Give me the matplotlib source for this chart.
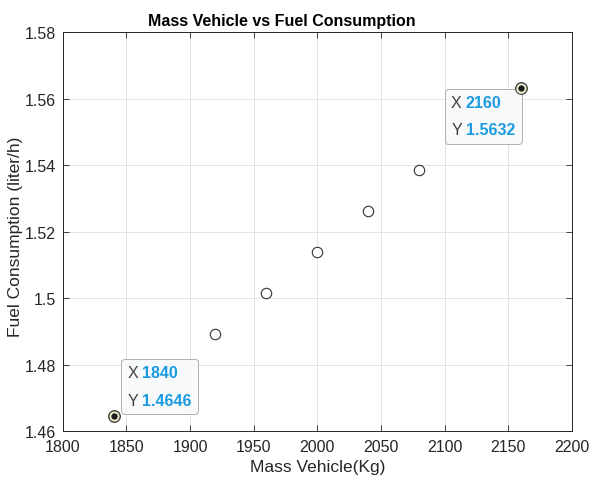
import matplotlib
matplotlib.use('Agg')
import matplotlib.pyplot as plt
from matplotlib.offsetbox import TextArea, HPacker, VPacker, AnnotationBbox

plt.rcParams['font.family'] = ['Liberation Sans', 'DejaVu Sans']

# data
mass = [1840, 1920, 1960, 2000, 2040, 2080, 2160]
fuel = [1.4646, 1.4893, 1.5016, 1.5139, 1.5262, 1.5386, 1.5632]
tip_idx = [0, 6]
x_ticks = [1800, 1850, 1900, 1950, 2000, 2050, 2100, 2150, 2200]
y_ticks = [1.46, 1.48, 1.5, 1.52, 1.54, 1.56, 1.58]
y_tick_labels = ['1.46', '1.48', '1.5', '1.52', '1.54', '1.56', '1.58']

fig = plt.figure(figsize=(5.92, 4.85), dpi=100)
ax = fig.add_axes([0.106, 0.109, 0.860, 0.823])

ax.plot(mass, fuel, linestyle='none', marker='o', markersize=7.5,
        markerfacecolor='white', markeredgecolor='#333333', markeredgewidth=0.8, zorder=3)

for i in tip_idx:
    ax.plot(mass[i], fuel[i], marker='o', markersize=6, markerfacecolor='#1a1a1a',
            markeredgecolor='#e8e4c8', markeredgewidth=1.5, zorder=6)
    ax.plot(mass[i], fuel[i], marker='o', markersize=8.5, markerfacecolor='none',
            markeredgecolor='#333333', markeredgewidth=0.7, zorder=6)

ax.set_xlim(1800, 2200)
ax.set_ylim(1.46, 1.58)
ax.set_xticks(x_ticks)
ax.set_yticks(y_ticks)
ax.set_yticklabels(y_tick_labels)
ax.tick_params(direction='in', length=4, width=0.6, colors='#262626', labelsize=11.5,
               top=True, right=True, labeltop=False, labelright=False)
ax.tick_params(axis='x', pad=6)
ax.tick_params(axis='y', pad=5)
ax.grid(True, color='#e3e3e3', linewidth=0.7)
ax.set_axisbelow(True)
for s in ax.spines.values():
    s.set_color('#262626')
    s.set_linewidth(0.7)

ax.set_title('Mass Vehicle vs Fuel Consumption', fontsize=11.5, fontweight='bold',
             color='black', pad=5, x=0.43)
ax.set_xlabel('Mass Vehicle(Kg)', fontsize=12.5, color='#262626', labelpad=3)
ax.set_ylabel('Fuel Consumption (liter/h)', fontsize=12.5, color='#262626')
ax.yaxis.set_label_coords(-0.078, 0.49)


def datatip(i, offset, align):
    rows = []
    for name, val in (('X', '%g' % mass[i]), ('Y', '%.4f' % fuel[i])):
        rows.append(HPacker(children=[
            TextArea(name, textprops=dict(color='#404040', fontsize=11.5)),
            TextArea(val, textprops=dict(color='#1a9be0', fontsize=11.5, fontweight='bold'))],
            pad=0, sep=3))
    box = VPacker(children=rows, pad=0, sep=9)
    ab = AnnotationBbox(box, (mass[i], fuel[i]), xybox=offset, xycoords='data',
                        boxcoords='offset points', box_alignment=align, pad=0.75,
                        bboxprops=dict(boxstyle='round,pad=0.45,rounding_size=0.25',
                                       facecolor='#f8f9fb', edgecolor='#b0b0b0', linewidth=0.7),
                        zorder=5)
    ax.add_artist(ab)


datatip(0, (10, 6), (0, 0))
datatip(6, (-4, -5), (1, 1))

fig.savefig('out.png', dpi=100)
